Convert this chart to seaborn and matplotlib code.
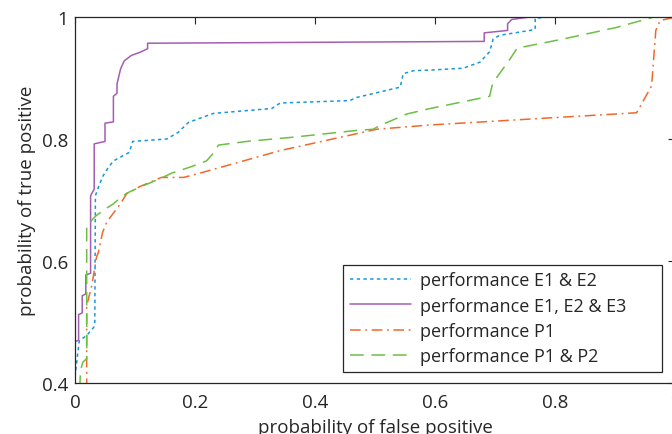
import numpy as np
import pandas as pd
import matplotlib
matplotlib.use("Agg")
import matplotlib.pyplot as plt
import seaborn as sns

# ---- data ----
fpr_e12 = [0.000, 0.001, 0.007, 0.0195, 0.031, 0.033, 0.034, 0.0405, 0.047, 0.056, 0.064, 0.075,
           0.0905, 0.096, 0.153, 0.172, 0.189, 0.208, 0.231, 0.328, 0.342, 0.458, 0.469,
           0.542, 0.547, 0.564, 0.592, 0.647, 0.675, 0.691, 0.697, 0.708, 0.758, 0.767,
           0.767, 0.790, 1.000]
tpr_e12 = [0.410, 0.418, 0.469, 0.478, 0.491, 0.500, 0.707, 0.725, 0.740, 0.754, 0.764, 0.770,
           0.778, 0.796, 0.800, 0.811, 0.827, 0.834, 0.842, 0.850, 0.859, 0.863, 0.868,
           0.885, 0.907, 0.912, 0.913, 0.916, 0.926, 0.943, 0.964, 0.970, 0.978, 0.980,
           0.998, 1.000, 1.000]

fpr_e123 = [0.000, 0.006, 0.006, 0.012, 0.012, 0.018, 0.018, 0.026, 0.026, 0.032, 0.032,
            0.050, 0.050, 0.064, 0.064, 0.070, 0.070, 0.076, 0.082, 0.094, 0.108, 0.121,
            0.121, 0.682, 0.682, 0.721, 0.721, 0.728, 0.758, 1.000]
tpr_e123 = [0.468, 0.470, 0.512, 0.515, 0.543, 0.546, 0.577, 0.580, 0.707, 0.718, 0.792,
            0.796, 0.826, 0.828, 0.870, 0.875, 0.890, 0.915, 0.928, 0.937, 0.942, 0.948,
            0.957, 0.960, 0.974, 0.978, 0.989, 0.996, 1.000, 1.000]

fpr_p1 = [0.0195, 0.0195, 0.028, 0.036, 0.039, 0.046, 0.053, 0.075, 0.086, 0.108, 0.144,
          0.181, 0.208, 0.342, 0.503, 0.592, 0.936, 0.961, 0.968, 0.975, 1.000]
tpr_p1 = [0.390, 0.527, 0.560, 0.607, 0.614, 0.647, 0.664, 0.693, 0.710, 0.722, 0.737,
          0.737, 0.744, 0.781, 0.816, 0.823, 0.843, 0.887, 0.978, 0.994, 1.000]

fpr_p12 = [0.008, 0.009, 0.013, 0.0195, 0.0195, 0.025, 0.036, 0.050, 0.063, 0.075, 0.086,
           0.108, 0.144, 0.161, 0.192, 0.219, 0.231, 0.239, 0.286, 0.364, 0.469, 0.497,
           0.508, 0.553, 0.592, 0.691, 0.695, 0.703, 0.725, 0.737, 0.814, 0.903, 0.965,
           1.000]
tpr_p12 = [0.390, 0.420, 0.434, 0.440, 0.658, 0.664, 0.675, 0.685, 0.693, 0.703, 0.711,
           0.721, 0.736, 0.744, 0.754, 0.764, 0.777, 0.790, 0.796, 0.803, 0.814, 0.816,
           0.822, 0.841, 0.850, 0.870, 0.887, 0.901, 0.931, 0.949, 0.964, 0.983, 1.000,
           1.000]

labels = ["performance E1 & E2", "performance E1, E2 & E3",
          "performance P1", "performance P1 & P2"]
x_ticks = [0, 0.2, 0.4, 0.6, 0.8, 1]
x_ticklabels = ["0", "0.2", "0.4", "0.6", "0.8", "1"]
y_ticks = [0.4, 0.6, 0.8, 1]
y_ticklabels = ["0.4", "0.6", "0.8", "1"]

# ---- styling ----
sns.set_theme(style="white")
plt.rcParams['font.family'] = ['Open Sans', 'DejaVu Sans']

colors = ["#1797dc", "#a45db3", "#f0692c", "#6cbf45"]
dashes = [(2.2, 2.2), None, (7, 3, 1.2, 3), (9, 5)]

fig = plt.figure(figsize=(6.72, 4.35), dpi=100)
ax = fig.add_axes([75 / 672, 51 / 435, 600 / 672, 366 / 435])

series = [(fpr_e12, tpr_e12), (fpr_e123, tpr_e123), (fpr_p1, tpr_p1), (fpr_p12, tpr_p12)]
for (xs, ys), lab, col, ds in zip(series, labels, colors, dashes):
    df = pd.DataFrame({"fpr": xs, "tpr": ys})
    sns.lineplot(data=df, x="fpr", y="tpr", sort=False, estimator=None, ax=ax,
                 color=col, linewidth=1.1, label=lab)
    ln = ax.lines[-1]
    if ds is not None:
        ln.set_dashes(ds)

ax.set_xlim(0, 1)
ax.set_ylim(0.4, 1)
ax.set_xticks(x_ticks)
ax.set_xticklabels(x_ticklabels)
ax.set_yticks(y_ticks)
ax.set_yticklabels(y_ticklabels)
ax.tick_params(axis="both", which="both", direction="in", length=5, width=0.8,
               labelsize=13.5, colors="#262626", top=True, right=True)
ax.tick_params(axis="x", pad=7)
ax.tick_params(axis="y", pad=5)
for s in ax.spines.values():
    s.set_color("#262626")
    s.set_linewidth(0.9)
ax.set_xlabel("probability of false positive", fontsize=13.5, color="#262626", labelpad=5)
ax.set_ylabel("probability of true positive", fontsize=13.5, color="#262626", labelpad=4)

leg = ax.legend(loc="lower left", bbox_to_anchor=(0.447, 0.030, 0.531, 0.290),
                mode="expand", fontsize=13, frameon=True, fancybox=False,
                edgecolor="#262626", framealpha=1, handlelength=3.4,
                labelspacing=0.4, borderpad=0.38, handletextpad=0.45, borderaxespad=0)
leg.get_frame().set_linewidth(0.9)
for t in leg.get_texts():
    t.set_color("#262626")

fig.savefig("out.png", dpi=100)
